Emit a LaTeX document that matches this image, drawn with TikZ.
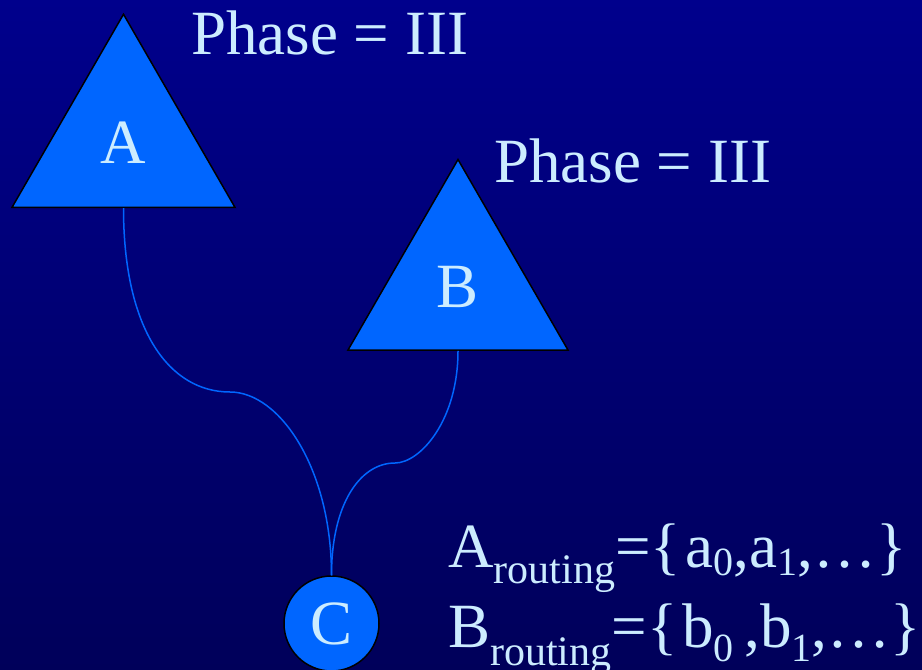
\documentclass[tikz,border=0pt]{standalone}
\usepackage{fontspec}
\setmainfont{Liberation Serif}
\usepackage{tikz}
\usetikzlibrary{shapes.geometric, positioning}

\definecolor{slidetop}{RGB}{0,0,140}
\definecolor{slidebottom}{RGB}{0,0,90}
\definecolor{nodeblue}{RGB}{0,102,255}
\definecolor{labelblue}{RGB}{204,236,255}

% lowered, smaller text for the subscripts
\newcommand{\lowtxt}[3][42]{\raisebox{-#3pt}{\fontsize{#1}{#1}\selectfont #2}}

\begin{document}
\begin{tikzpicture}[x=1pt, y=-1pt,
    big/.style={font=\fontsize{63}{75}\selectfont, text=labelblue},
    caption/.style={big, anchor=base west, inner sep=0pt},
    tree/.style={regular polygon, regular polygon sides=3, draw=black,
                 line width=1.5pt, fill=nodeblue, inner sep=0pt, big},
    member/.style={circle, draw=black, line width=1.5pt, fill=nodeblue,
                   minimum size=95pt, inner sep=0pt, big},
    wire/.style={nodeblue, line width=1.5pt}]
  % Slide background
  \useasboundingbox (0,0) rectangle (922,670);
  \shade[top color=slidetop, bottom color=slidebottom] (0,0) rectangle (922,670);

  % Trees and member
  \node[tree, minimum size=257.5pt] (A) at (123.5,143) {A};
  \node[tree, minimum size=254pt] (B) at (458,286.5) {B};
  \node[member] (C) at (331.5,623.5) {C};

  % Phase labels
  \node[caption] (phaseA) at (191,54) {Phase = III};
  \node[caption] (phaseB) at (494,182) {Phase = III};

  % Paths from the trees down to C
  \coordinate (bendA) at (230,392);
  \coordinate (bendB) at (395,463);
  \draw[wire] (A.south) .. controls +(0,123) and +(-60,0) .. (bendA)
    .. controls +(50,0) and +(0,-106) .. (C.north);
  \draw[wire] (B.south) .. controls +(0,70) and +(25,0) .. (bendB)
    .. controls +(-35,0) and +(0,-71) .. (C.north);

  % Routing sets
  \node[caption] (routeA) at (448,567)
    {A\lowtxt{routing}{16}=\{\hspace{5pt}a\lowtxt[40]{0}{8},a\lowtxt[40]{1}{8},\dots\}};
  \node[caption] (routeB) at (448,647)
    {B\lowtxt{routing}{18}=\{\hspace{5pt}b\lowtxt[40]{0}{14}\,,b\lowtxt[40]{1}{14},\dots\}};
\end{tikzpicture}
\end{document}
